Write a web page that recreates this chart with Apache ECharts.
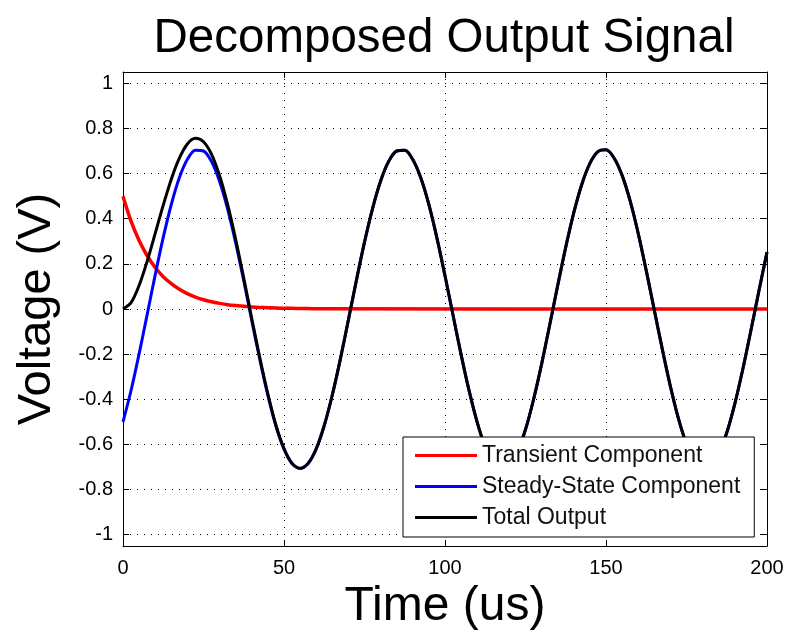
<!DOCTYPE html>
<html>
<head>
<meta charset="utf-8">
<title>Decomposed Output Signal</title>
<script src="https://cdn.jsdelivr.net/npm/echarts@6/dist/echarts.min.js"></script>
<style>
  html, body { margin: 0; padding: 0; background: #fff; }
  #chart { width: 788px; height: 631px; }
</style>
</head>
<body>
<div id="chart"></div>
<script>
// time axis (us), sampled every 2.5 us
const time = [
  0, 2.5, 5, 7.5, 10, 12.5, 15, 17.5, 20, 22.5,
  25, 27.5, 30, 32.5, 35, 37.5, 40, 42.5, 45, 47.5,
  50, 52.5, 55, 57.5, 60, 62.5, 65, 67.5, 70, 72.5,
  75, 77.5, 80, 82.5, 85, 87.5, 90, 92.5, 95, 97.5,
  100, 102.5, 105, 107.5, 110, 112.5, 115, 117.5, 120, 122.5,
  125, 127.5, 130, 132.5, 135, 137.5, 140, 142.5, 145, 147.5,
  150, 152.5, 155, 157.5, 160, 162.5, 165, 167.5, 170, 172.5,
  175, 177.5, 180, 182.5, 185, 187.5, 190, 192.5, 195, 197.5,
  200
]

// transient decays to zero early, so it only needs points up to 60 us plus the end
const transientTime = [
  0, 2.5, 5, 7.5, 10, 12.5, 15, 17.5, 20, 22.5,
  25, 27.5, 30, 32.5, 35, 37.5, 40, 42.5, 45, 47.5,
  50, 52.5, 55, 57.5, 60, 200
]
const transient = [
  0.500, 0.389, 0.303, 0.236, 0.184, 0.143, 0.112, 0.087, 0.068, 0.053,
  0.041, 0.032, 0.025, 0.019, 0.015, 0.012, 0.009, 0.007, 0.006, 0.004,
  0.003, 0.003, 0.002, 0.002, 0.001, 0
]

const steady = [
  -0.500, -0.361, -0.199, -0.025, 0.151, 0.317, 0.463, 0.581, 0.663, 0.703,
  0.700, 0.653, 0.565, 0.443, 0.293, 0.125, -0.052, -0.224, -0.383, -0.519,
  -0.621, -0.686, -0.707, -0.685, -0.620, -0.516, -0.381, -0.222, -0.048, 0.128,
  0.296, 0.445, 0.567, 0.654, 0.700, 0.703, 0.662, 0.580, 0.462, 0.314,
  0.147, -0.028, -0.202, -0.363, -0.502, -0.611, -0.680, -0.707, -0.690, -0.630,
  -0.534, -0.401, -0.244, -0.072, 0.104, 0.274, 0.427, 0.553, 0.645, 0.697,
  0.705, 0.669, 0.592, 0.479, 0.335, 0.170, -0.005, -0.179, -0.343, -0.486,
  -0.598, -0.673, -0.706, -0.694, -0.640, -0.548, -0.420, -0.266, -0.095, 0.081,
  0.252
]

const total = [
  0.000, 0.028, 0.104, 0.211, 0.335, 0.460, 0.575, 0.668, 0.731, 0.756,
  0.741, 0.685, 0.590, 0.462, 0.308, 0.137, -0.043, -0.217, -0.377, -0.515,
  -0.618, -0.683, -0.705, -0.683, -0.619, -0.516, -0.381, -0.222, -0.048, 0.128,
  0.296, 0.445, 0.567, 0.654, 0.700, 0.703, 0.662, 0.580, 0.462, 0.314,
  0.147, -0.028, -0.202, -0.363, -0.502, -0.611, -0.680, -0.707, -0.690, -0.630,
  -0.534, -0.401, -0.244, -0.072, 0.104, 0.274, 0.427, 0.553, 0.645, 0.697,
  0.705, 0.669, 0.592, 0.479, 0.335, 0.170, -0.005, -0.179, -0.343, -0.486,
  -0.598, -0.673, -0.706, -0.694, -0.640, -0.548, -0.420, -0.266, -0.095, 0.081,
  0.252
]

const yTicks = [-1, -0.8, -0.6, -0.4, -0.2, 0, 0.2, 0.4, 0.6, 0.8, 1]

const font = 'Arial, "Liberation Sans", Helvetica, sans-serif'

function pairs(xs, ys) {
  return xs.map((x, i) => [x, ys[i]])
}

const chart = echarts.init(document.getElementById('chart'), null, { renderer: 'canvas' })

// matlab style dotted grid
const dotted = { color: '#000', width: 1, type: [1, 6] }

const xBase = {
  type: 'value',
  min: 0,
  max: 200,
  interval: 50,
  axisLine: { show: true, onZero: false, lineStyle: { color: '#000', width: 1 } },
  axisTick: { show: true, inside: true, length: 6, lineStyle: { color: '#000' } }
}
const yBase = {
  type: 'value',
  min: -1.05,
  max: 1.05,
  axisLine: { show: true, onZero: false, lineStyle: { color: '#000', width: 1 } },
  axisTick: { show: true, inside: true, length: 6, customValues: yTicks, lineStyle: { color: '#000' } }
}

const option = {
  animation: false,
  backgroundColor: '#fff',
  title: {
    text: 'Decomposed Output Signal',
    left: 439,
    top: 10,
    textAlign: 'center',
    textStyle: { fontFamily: font, fontSize: 47.5, fontWeight: 'normal', color: '#000' }
  },
  // keep the plot box fixed, do not shrink it to fit the big axis names
  grid: { left: 123, right: 21, top: 72, bottom: 85, outerBoundsMode: 'none' },
  legend: {
    orient: 'vertical',
    left: 403,
    top: 437,
    padding: [7, 14, 8, 12],
    icon: 'rect',
    itemWidth: 62,
    itemHeight: 3,
    itemGap: 8,
    backgroundColor: '#fff',
    borderColor: '#000',
    borderWidth: 1,
    borderRadius: 0,
    textStyle: { fontFamily: font, fontSize: 23, color: '#111' },
    data: ['Transient Component', 'Steady-State Component', 'Total Output']
  },
  xAxis: [
    Object.assign({}, xBase, {
      position: 'bottom',
      name: 'Time (us)',
      nameLocation: 'middle',
      nameGap: 37,
      nameTextStyle: { fontFamily: font, fontSize: 48, color: '#000' },
      axisLabel: { margin: 12, fontFamily: font, fontSize: 20, color: '#000' },
      splitLine: { show: true, lineStyle: dotted }
    }),
    Object.assign({}, xBase, {
      position: 'top',
      axisLabel: { show: false },
      splitLine: { show: false }
    })
  ],
  yAxis: [
    Object.assign({}, yBase, {
      position: 'left',
      name: 'Voltage (V)',
      nameLocation: 'middle',
      nameGap: 62,
      nameTextStyle: { fontFamily: font, fontSize: 47, color: '#000' },
      axisLabel: { margin: 10, fontFamily: font, fontSize: 20, color: '#000', customValues: yTicks },
      splitLine: { show: true, lineStyle: dotted }
    }),
    Object.assign({}, yBase, {
      position: 'right',
      axisLabel: { show: false },
      splitLine: { show: false }
    })
  ],
  series: [
    {
      name: 'Transient Component',
      type: 'line',
      symbol: 'none',
      smooth: 0.3,
      lineStyle: { color: '#ff0000', width: 3.5 },
      itemStyle: { color: '#ff0000' },
      data: pairs(transientTime, transient)
    },
    {
      name: 'Steady-State Component',
      type: 'line',
      symbol: 'none',
      smooth: 0.3,
      lineStyle: { color: '#0000ff', width: 3 },
      itemStyle: { color: '#0000ff' },
      data: pairs(time, steady)
    },
    {
      name: 'Total Output',
      type: 'line',
      symbol: 'none',
      smooth: 0.3,
      lineStyle: { color: '#000', width: 3 },
      itemStyle: { color: '#000' },
      data: pairs(time, total)
    }
  ]
}

chart.setOption(option)
window.addEventListener('resize', chart.resize)
</script>
</body>
</html>
